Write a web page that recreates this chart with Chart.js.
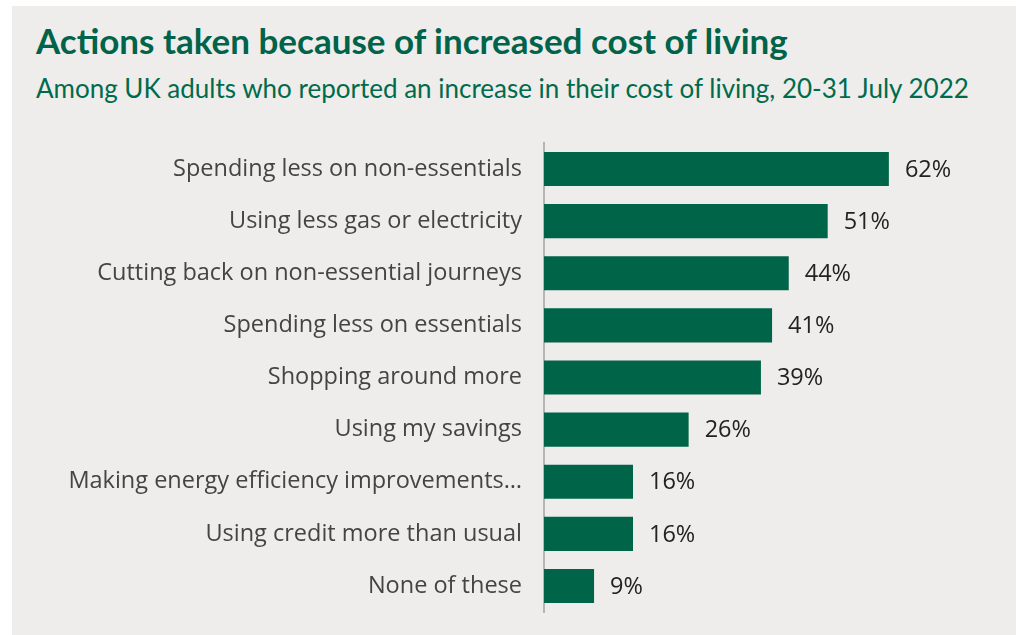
<!DOCTYPE html>
<html>
<head>
<meta charset="utf-8">
<script src="https://cdn.jsdelivr.net/npm/chart.js@4.4.0/dist/chart.umd.min.js"></script>
<style>
  html, body { margin: 0; padding: 0; background: #fff; overflow: hidden; }
  #panel { position: absolute; left: 12px; top: 6px; width: 1004px; height: 629px; background: #eeedeb; }
  #title { position: absolute; left: 24px; top: 13px; font: bold 35px Lato, sans-serif; color: #00634a; white-space: nowrap; }
  #subtitle { position: absolute; left: 24px; top: 66px; font: 26px Lato, sans-serif; color: #006b4c; white-space: nowrap; }
  #wrap { position: absolute; left: 0; top: 118px; width: 1004px; height: 511px; }
</style>
</head>
<body>
<div id="panel">
  <div id="title">Actions taken because of increased cost of living</div>
  <div id="subtitle">Among UK adults who reported an increase in their cost of living, 20-31 July 2022</div>
  <div id="wrap"><canvas id="myChart" width="1004" height="511"></canvas></div>
</div>
<script>
const categories = [
  'Spending less on non-essentials',
  'Using less gas or electricity',
  'Cutting back on non-essential journeys',
  'Spending less on essentials',
  'Shopping around more',
  'Using my savings',
  'Making energy efficiency improvements…',
  'Using credit more than usual',
  'None of these'
];
const percentages = [62, 51, 44, 41, 39, 26, 16, 16, 9];

const barColor = '#006548';

// writes the % next to each bar
const valueLabels = {
  id: 'valueLabels',
  afterDatasetsDraw(chart) {
    const ctx = chart.ctx;
    const meta = chart.getDatasetMeta(0);
    ctx.save();
    ctx.font = '23.5px "Open Sans", sans-serif';
    ctx.fillStyle = '#222';
    ctx.textBaseline = 'middle';
    ctx.textAlign = 'left';
    meta.data.forEach((bar, i) => {
      ctx.fillText(percentages[i] + '%', bar.x + 16, bar.y + 1);
    });
    ctx.restore();
  }
};

var ctx = document.getElementById('myChart').getContext('2d');
var myChart = new Chart(ctx, {
  type: 'bar',
  data: {
    labels: categories,
    datasets: [{
      data: percentages,
      backgroundColor: barColor,
      barPercentage: 0.655,
      categoryPercentage: 1
    }]
  },
  options: {
    indexAxis: 'y',
    responsive: false,
    animation: false,
    layout: { padding: { top: 19, bottom: 23, left: 0, right: 27 } },
    plugins: { legend: { display: false }, tooltip: { enabled: false } },
    scales: {
      x: {
        min: 0, max: 80,
        display: false
      },
      y: {
        afterFit: axis => {
          axis.width = 532;
          // labels sit beside the bars, no extra room needed above/below
          axis.paddingTop = 0;
          axis.paddingBottom = 0;
        },
        grid: { display: false, drawTicks: false },
        border: { display: true, color: '#b5b5b5', width: 2 },
        ticks: {
          padding: 22,
          color: '#444',
          font: { family: '"Open Sans", sans-serif', size: 23.5 }
        }
      }
    }
  },
  plugins: [valueLabels]
});
</script>
</body>
</html>
